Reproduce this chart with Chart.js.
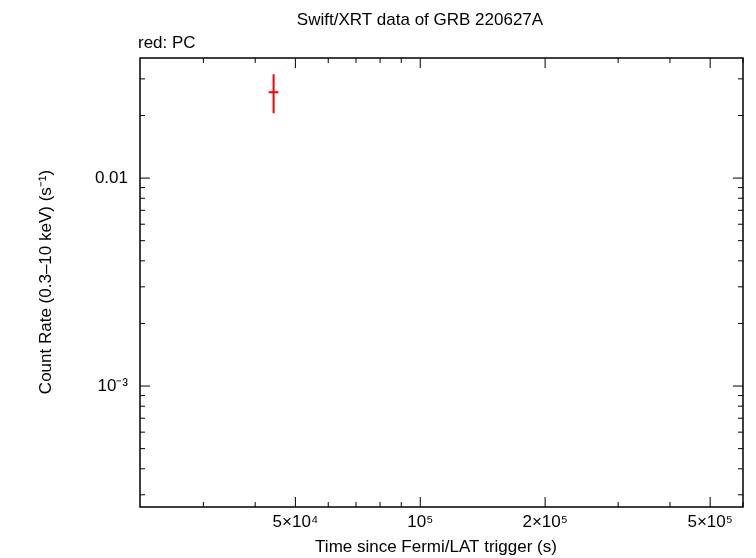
<!DOCTYPE html>
<html><head><meta charset="utf-8">
<script src="https://cdn.jsdelivr.net/npm/chart.js@4"></script>
<style>body{margin:0;background:#fff}#wrap{width:756px;height:558px}</style>
</head><body><div id="wrap"><canvas id="c"></canvas></div>
<script>
// PC data point (time, rate, errors)
const pcTime = [44300];
const pcRate = [0.0259];
const pcTimeErr = [1200];
const pcRateLo = [0.0205];
const pcRateHi = [0.0316];

const xMajor = [5e4, 1e5, 2e5, 5e5];
const xMajorLabels = ['5×10⁴', '10⁵', '2×10⁵', '5×10⁵'];
const yMajor = [1e-3, 1e-2];
const yMajorLabels = ['10⁻³', '0.01'];

const xMin = 2.11e4, xMax = 6.0e5, yMin = 2.62e-4, yMax = 0.0378;

function minorTicks(lo, hi) {
  const out = [];
  for (let e = Math.floor(Math.log10(lo)); e <= Math.ceil(Math.log10(hi)); e++)
    for (let m = 1; m < 10; m++) { const v = m * Math.pow(10, e); if (v >= lo && v <= hi) out.push(v); }
  return out;
}

const font = '"Liberation Sans", Arial, sans-serif';

const frame = {
  id: 'frame',
  afterDraw(chart) {
    const { ctx, chartArea: a, scales: { x, y } } = chart;
    ctx.save();
    ctx.strokeStyle = '#000'; ctx.lineWidth = 1.5;
    ctx.strokeRect(a.left, a.top, a.right - a.left, a.bottom - a.top);
    ctx.lineWidth = 1;
    minorTicks(xMin, xMax).forEach(v => {
      const p = x.getPixelForValue(v), len = xMajor.includes(v) ? 10 : 5;
      ctx.beginPath();
      ctx.moveTo(p, a.bottom); ctx.lineTo(p, a.bottom - len);
      ctx.moveTo(p, a.top); ctx.lineTo(p, a.top + len);
      ctx.stroke();
    });
    minorTicks(yMin, yMax).forEach(v => {
      const p = y.getPixelForValue(v), len = yMajor.some(m => Math.abs(m - v) / v < 1e-6) ? 10 : 5;
      ctx.beginPath();
      ctx.moveTo(a.left, p); ctx.lineTo(a.left + len, p);
      ctx.moveTo(a.right, p); ctx.lineTo(a.right - len, p);
      ctx.stroke();
    });
    // error bars
    ctx.strokeStyle = '#ff0000'; ctx.lineWidth = 2;
    pcTime.forEach((t, i) => {
      const px = x.getPixelForValue(t), py = y.getPixelForValue(pcRate[i]);
      ctx.beginPath();
      ctx.moveTo(x.getPixelForValue(t - pcTimeErr[i]), py);
      ctx.lineTo(x.getPixelForValue(t + pcTimeErr[i]), py);
      ctx.moveTo(px, y.getPixelForValue(pcRateHi[i]));
      ctx.lineTo(px, y.getPixelForValue(pcRateLo[i]));
      ctx.stroke();
    });
    // texts
    ctx.fillStyle = '#000';
    ctx.font = '17px ' + font;
    ctx.textAlign = 'center'; ctx.textBaseline = 'middle';
    ctx.fillText('Swift/XRT data of GRB 220627A', 420, 20);
    ctx.fillText('Time since Fermi/LAT trigger (s)', 436, 547);
    ctx.textAlign = 'left';
    ctx.fillText('red: PC', 138, 43);
    ctx.save();
    ctx.translate(46, 282); ctx.rotate(-Math.PI / 2);
    ctx.textAlign = 'center';
    ctx.fillText('Count Rate (0.3\u201310 keV) (s\u207B\u00B9)', 0, 0);
    ctx.restore();
    ctx.restore();
  }
};

new Chart(document.getElementById('c'), {
  type: 'scatter',
  data: { datasets: [{ label: 'PC', data: pcTime.map((t, i) => ({ x: t, y: pcRate[i] })),
    pointRadius: 0, borderColor: '#ff0000', backgroundColor: '#ff0000' }] },
  options: {
    responsive: true, maintainAspectRatio: false, animation: false,
    layout: { padding: { left: 0, right: 13, top: 58, bottom: 0 } },
    plugins: { legend: { display: false }, tooltip: { enabled: false } },
    scales: {
      x: {
        type: 'logarithmic', min: xMin, max: xMax,
        afterBuildTicks: s => { s.ticks = xMajor.map(v => ({ value: v })); },
        afterFit: s => { s.height = 51; },
        grid: { display: false, drawTicks: false }, border: { display: false },
        ticks: { color: '#000', font: { family: font, size: 17 }, padding: 5, maxRotation: 0,
          callback: (v) => { const i = xMajor.indexOf(v); return i >= 0 ? xMajorLabels[i] : ''; } }
      },
      y: {
        type: 'logarithmic', min: yMin, max: yMax,
        afterBuildTicks: s => { s.ticks = yMajor.map(v => ({ value: v })); },
        afterFit: s => { s.width = 140; },
        grid: { display: false, drawTicks: false }, border: { display: false },
        ticks: { color: '#000', font: { family: font, size: 17 }, padding: 12,
          callback: (v) => { const i = yMajor.findIndex(m => Math.abs(m - v) / m < 1e-6); return i >= 0 ? yMajorLabels[i] : ''; } }
      }
    }
  },
  plugins: [frame]
});
</script></body></html>
